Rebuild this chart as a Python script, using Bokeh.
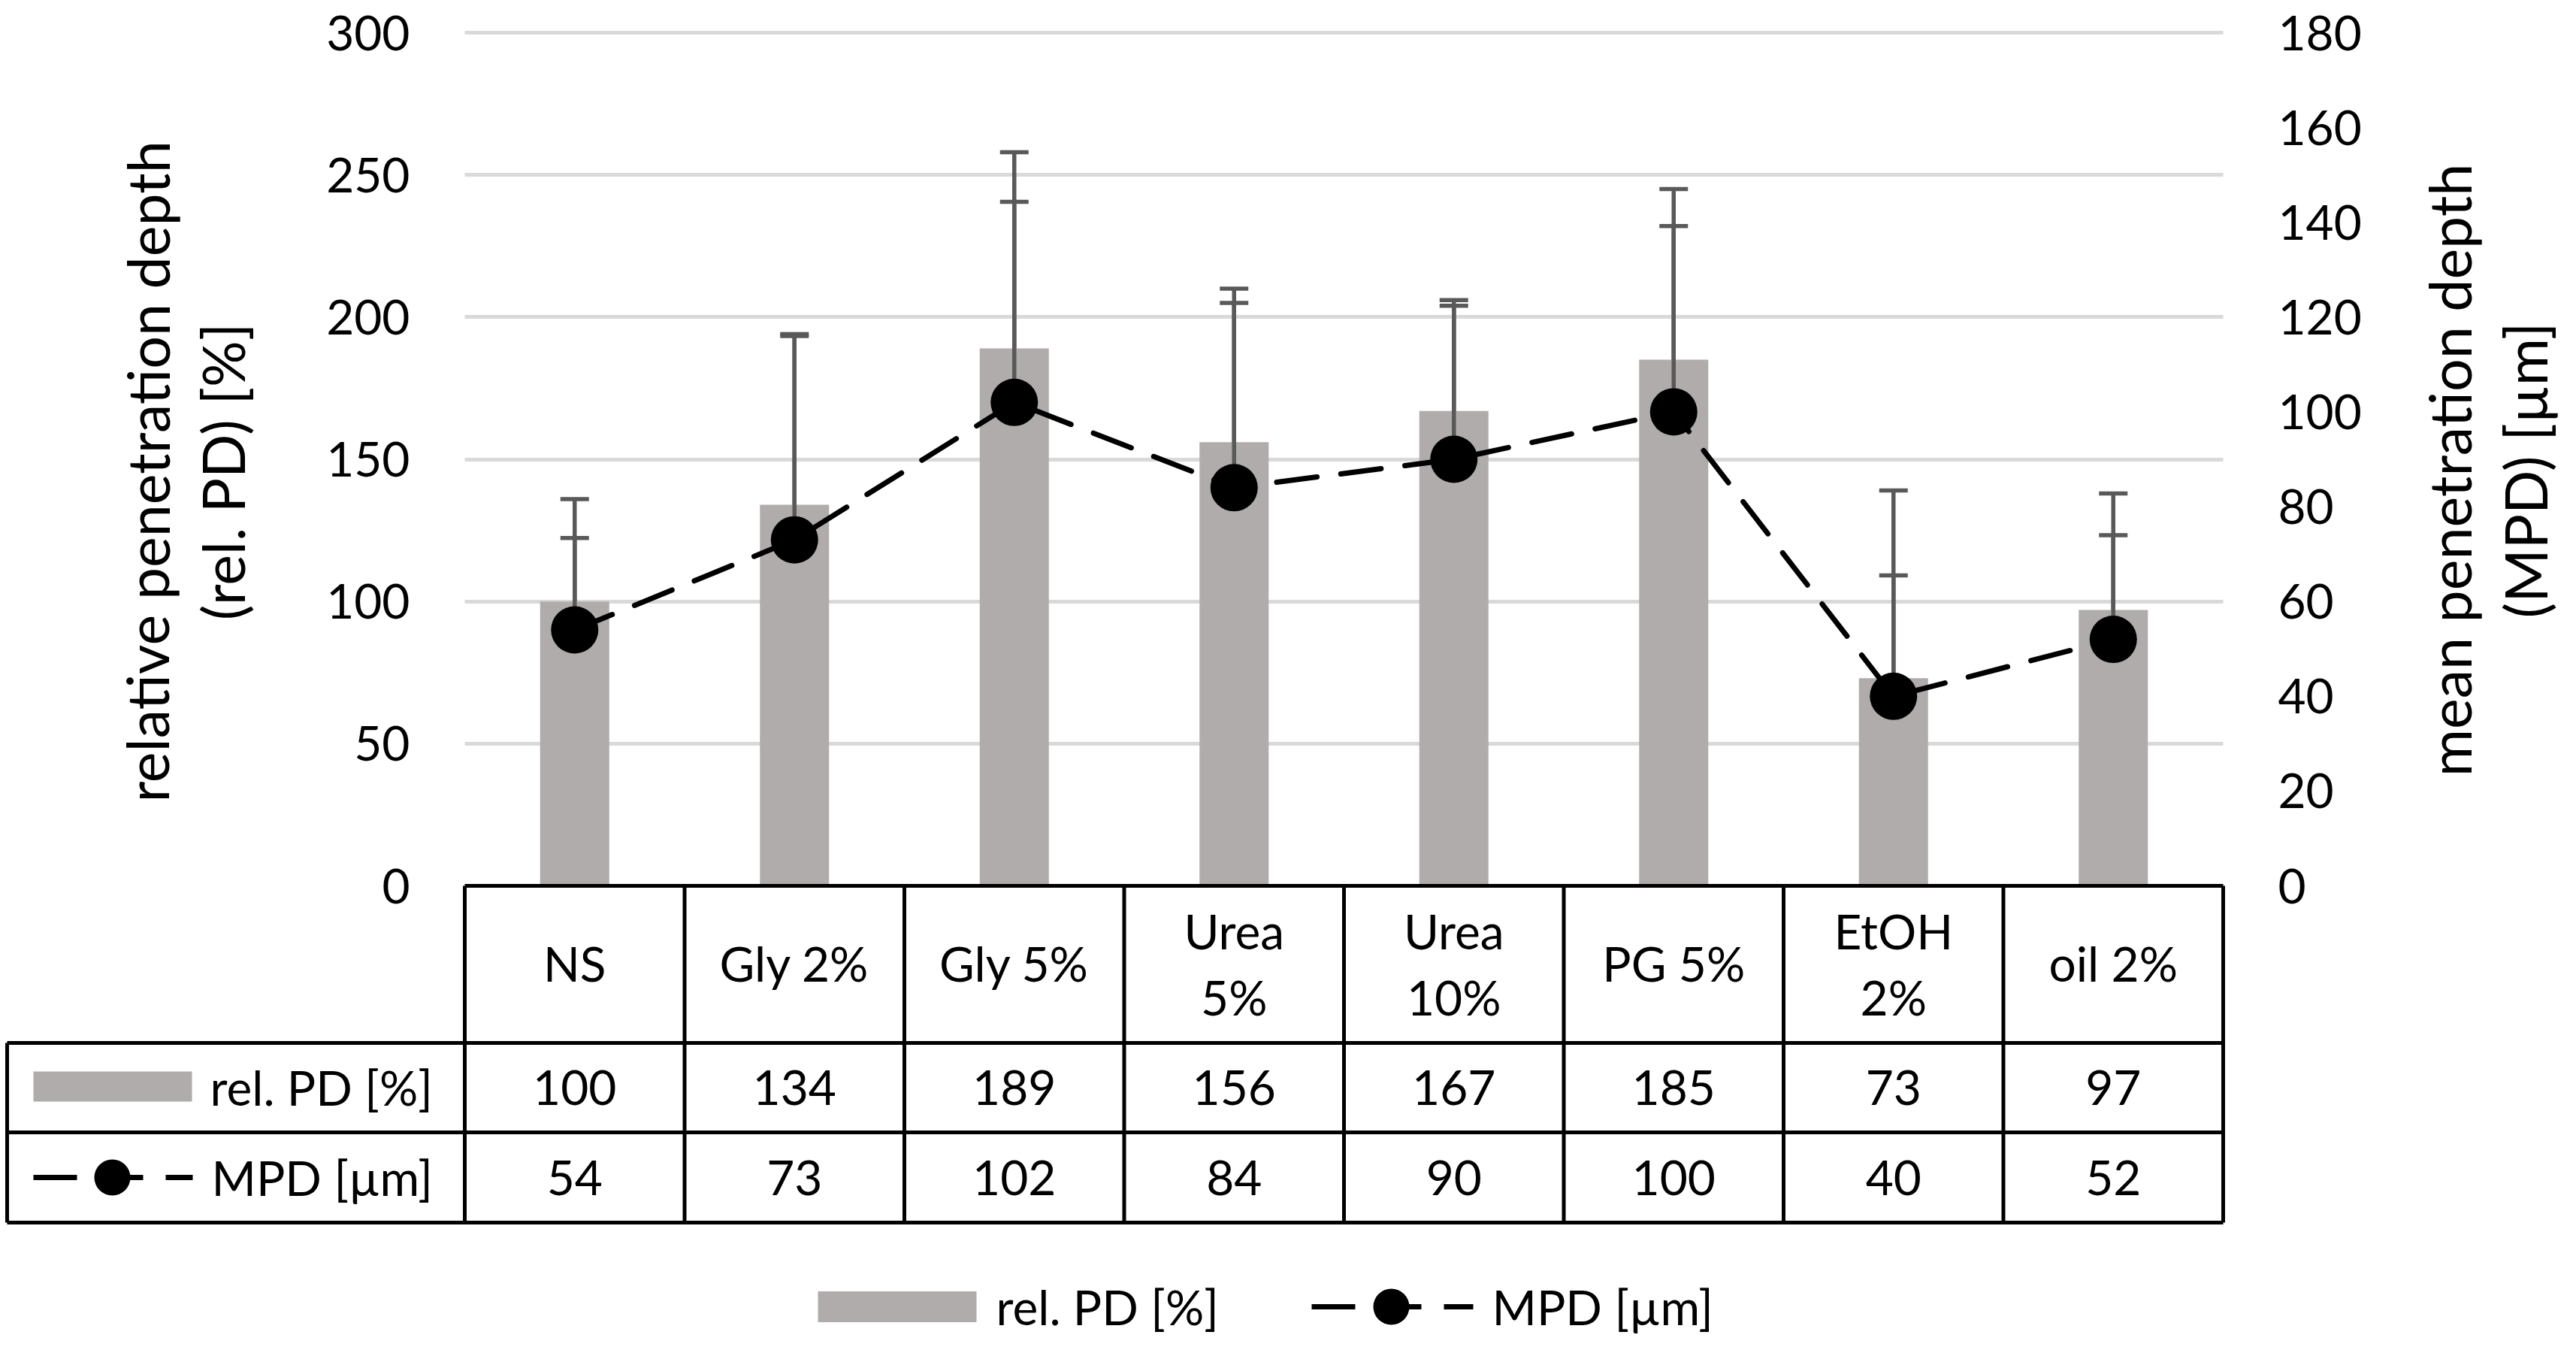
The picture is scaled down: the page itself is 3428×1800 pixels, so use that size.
from bokeh.plotting import figure
from bokeh.models import Range1d, LinearAxis, FixedTicker, Grid
from bokeh.embed import file_html
from bokeh.resources import INLINE
from bokeh.core.properties import value

# ---------------- data ----------------
categories = ["NS", "Gly 2%", "Gly 5%", "Urea\n5%", "Urea\n10%", "PG 5%", "EtOH\n2%", "oil 2%"]
rel_pd = [100, 134, 189, 156, 167, 185, 73, 97]
rel_pd_err = [36, 60, 69, 54, 39, 60, 66, 41]
mpd = [54, 73, 102, 84, 90, 100, 40, 52]
mpd_err = [19.4, 43, 42.3, 39, 32.4, 39.2, 25.5, 22]
left_ticks = [0, 50, 100, 150, 200, 250, 300]
right_ticks = [0, 20, 40, 60, 80, 100, 120, 140, 160, 180]
bar_label = "rel. PD [%]"
line_label = "MPD [µm]"
left_title = ["relative penetration depth", "(rel. PD) [%]"]
right_title = ["mean penetration depth", "(MPD) [µm]"]

# ---------------- layout constants (reference pixels) ----------------
OFF = 8
W, H = 3412, 1784
X0 = 626.0          # left edge of first category column
COLW = 292.5        # column width
Y0 = 1186.0         # y of value 0
YTOP = 51.0         # y of value 300
PXU = (Y0 - YTOP) / 300.0
RATIO = 180.0 / 300.0
FONT = value("Lato")
FS = "64px"
FS_TITLE = "77px"
BAR_COLOR = "#AFACAB"
ERR_COLOR = "#595959"
GRID_COLOR = "#D9D9D9"
N = len(categories)


def xd(px):
    return (px - X0) / COLW


def yd(py):
    return (Y0 - py) / PXU


xs = [i + 0.5 for i in range(N)]

p = figure(width=W, height=H,
           x_range=Range1d(xd(OFF), xd(OFF + W)), y_range=Range1d(yd(OFF + H), yd(OFF)),
           x_axis_location=None, y_axis_location=None,
           toolbar_location=None, output_backend="svg",
           min_border=0, min_border_left=0, min_border_right=0,
           min_border_top=0, min_border_bottom=0)
p.extra_y_ranges = {"mpd": Range1d(yd(OFF + H) * RATIO, yd(OFF) * RATIO)}
p.outline_line_color = None
p.background_fill_color = "white"
p.border_fill_color = "white"
for g in list(p.grid):
    g.visible = False

# axes, fixed at the plot-area edges
la = LinearAxis(ticker=FixedTicker(ticks=left_ticks), fixed_location=0)
ra = LinearAxis(y_range_name="mpd", ticker=FixedTicker(ticks=right_ticks), fixed_location=N)
p.add_layout(la, "left")
p.add_layout(ra, "right")
for ax in (la, ra):
    ax.axis_line_color = None
    ax.major_tick_line_color = None
    ax.minor_tick_line_color = None
    ax.major_tick_in = 0
    ax.major_tick_out = 0
    ax.major_label_standoff = 73
    ax.major_label_text_font = "Lato"
    ax.major_label_text_font_size = FS
    ax.major_label_text_color = "black"

grid = Grid(dimension=1, ticker=FixedTicker(ticks=left_ticks), cross_bounds=(0, N),
            grid_line_color=GRID_COLOR, grid_line_width=5)
p.add_layout(grid)

# bars
p.vbar(x=xs, top=rel_pd, width=92 / COLW, bottom=0, fill_color=BAR_COLOR, line_color=None)

# error bars
EW = 5.5
cap = 38 / COLW / 2
bar_hi = [v + e for v, e in zip(rel_pd, rel_pd_err)]
p.segment(x0=xs, y0=rel_pd, x1=xs, y1=bar_hi, line_color=ERR_COLOR, line_width=EW)
p.segment(x0=[x - cap for x in xs], y0=bar_hi, x1=[x + cap for x in xs], y1=bar_hi,
          line_color=ERR_COLOR, line_width=EW)
mpd_hi = [v + e for v, e in zip(mpd, mpd_err)]
p.segment(x0=xs, y0=mpd, x1=xs, y1=mpd_hi, line_color=ERR_COLOR, line_width=EW, y_range_name="mpd")
p.segment(x0=[x - cap for x in xs], y0=mpd_hi, x1=[x + cap for x in xs], y1=mpd_hi,
          line_color=ERR_COLOR, line_width=EW, y_range_name="mpd")

# line + markers
p.line(x=xs, y=mpd, y_range_name="mpd", line_color="black", line_width=7,
       line_dash="54 32", line_cap="round")
p.scatter(x=xs, y=mpd, y_range_name="mpd", size=63, marker="circle",
          fill_color="black", line_color=None)

# axis titles
TXT = dict(text_font=FONT, text_font_size=FS, text_color="black")
TTL = dict(text_font=FONT, text_font_size=FS_TITLE, text_color="black")
p.text(x=[xd(203), xd(303)], y=[yd(635)] * 2, text=left_title, angle=1.5707963,
       text_align="center", text_baseline="middle", **TTL)
p.text(x=[xd(3266), xd(3367)], y=[yd(633)] * 2, text=right_title, angle=1.5707963,
       text_align="center", text_baseline="middle", **TTL)

# ---------------- data table ----------------
TW = 5
R1, R2, RB = 1395, 1514, 1634
LX = 17
p.segment(x0=[0, xd(LX), xd(LX), xd(LX)], y0=[0, yd(R1), yd(R2), yd(RB)],
          x1=[N] * 4, y1=[0, yd(R1), yd(R2), yd(RB)], line_color="black", line_width=TW)
p.segment(x0=list(range(N + 1)), y0=[0] * (N + 1), x1=list(range(N + 1)),
          y1=[yd(RB)] * (N + 1), line_color="black", line_width=TW)
p.segment(x0=[xd(LX)], y0=[yd(R1)], x1=[xd(LX)], y1=[yd(RB)], line_color="black", line_width=TW)

# header labels (one or two lines)
hx, hy, ht = [], [], []
for x, c in zip(xs, categories):
    parts = c.split("\n")
    if len(parts) == 1:
        hx.append(x); hy.append(yd(1289)); ht.append(parts[0])
    else:
        hx += [x, x]; hy += [yd(1246), yd(1334)]; ht += parts
p.text(x=hx, y=hy, text=ht, text_align="center", text_baseline="middle", **TXT)

p.text(x=xs, y=[yd(1454)] * N, text=[str(v) for v in rel_pd],
       text_align="center", text_baseline="middle", **TXT)
p.text(x=xs, y=[yd(1574)] * N, text=[str(v) for v in mpd],
       text_align="center", text_baseline="middle", **TXT)

# legend keys inside the table
p.rect(x=[xd(157.5)], y=[yd(1453)], width=211 / COLW, height=40 / PXU,
       fill_color=BAR_COLOR, line_color=None)
p.text(x=[xd(287)], y=[yd(1454)], text=[bar_label], text_align="left", text_baseline="middle", **TXT)
p.line(x=[xd(52), xd(264)], y=[yd(1574), yd(1574)], line_color="black", line_width=7,
       line_dash="58 30", line_cap="butt")
p.scatter(x=[xd(157)], y=[yd(1574)], size=48, marker="circle", fill_color="black", line_color=None)
p.text(x=[xd(289)], y=[yd(1574)], text=[line_label], text_align="left", text_baseline="middle", **TXT)

# bottom legend
LY = 1746
p.rect(x=[xd(1201.5)], y=[yd(LY)], width=211 / COLW, height=41 / PXU,
       fill_color=BAR_COLOR, line_color=None)
p.text(x=[xd(1333)], y=[yd(LY)], text=[bar_label], text_align="left", text_baseline="middle", **TXT)
p.line(x=[xd(1753), xd(1968)], y=[yd(LY), yd(LY)], line_color="black", line_width=7,
       line_dash="58 30", line_cap="butt")
p.scatter(x=[xd(1859)], y=[yd(LY)], size=48, marker="circle", fill_color="black", line_color=None)
p.text(x=[xd(1993)], y=[yd(LY)], text=[line_label], text_align="left", text_baseline="middle", **TXT)

open("out.html", "w").write(file_html(p, INLINE))
